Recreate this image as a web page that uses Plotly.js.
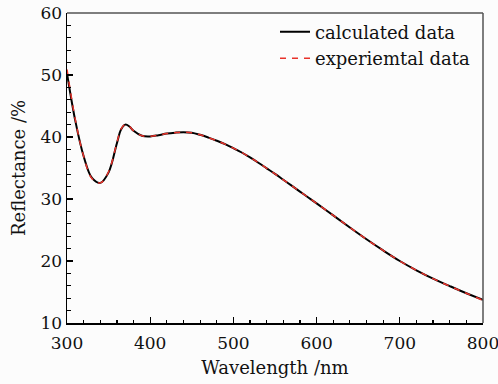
<!DOCTYPE html>
<html>
<head>
<meta charset="utf-8">
<script src="https://cdn.plot.ly/plotly-3.0.1.min.js"></script>
<style>html,body{margin:0;padding:0;background:#fcfcfc;}#chart{width:498px;height:384px;}</style>
</head>
<body>
<div id="chart"></div>
<script>
const wavelength = [300,310,320,330,340,350,360,365,370,375,380,390,400,410,420,430,440,450,460,470,480,490,500,510,520,530,540,550,560,570,580,590,600,620,640,660,680,700,720,740,760,780,800];
const calculated = [50.3,42.6,36.9,33.4,32.6,34.3,39.0,41.2,42.0,41.7,41.0,40.2,40.1,40.3,40.55,40.7,40.78,40.7,40.35,39.9,39.4,38.85,38.2,37.5,36.7,35.85,34.95,34.05,33.1,32.15,31.2,30.25,29.3,27.35,25.4,23.5,21.7,20.0,18.5,17.15,15.95,14.8,13.75];
const experimental = [50.9,42.8,36.9,33.3,32.6,34.4,39.1,41.3,42.0,41.7,41.0,40.2,40.1,40.3,40.55,40.7,40.78,40.7,40.35,39.9,39.4,38.85,38.2,37.5,36.7,35.85,34.95,34.05,33.1,32.15,31.2,30.25,29.3,27.35,25.4,23.5,21.7,20.0,18.5,17.15,15.95,14.8,13.65];
const seriesNames = ["calculated data", "experiemtal data"];
const xTitle = "Wavelength /nm";
const yTitle = "Reflectance /%";

const FAMILY = "'DejaVu Serif', 'Liberation Serif', serif";
const TXT = "#111111";

const traces = [
  {x: wavelength, y: calculated, name: seriesNames[0], type: "scatter", mode: "lines",
   line: {color: "#000000", width: 2, shape: "spline", smoothing: 1}},
  {x: wavelength, y: experimental, name: seriesNames[1], type: "scatter", mode: "lines",
   line: {color: "#e8322a", width: 1.5, dash: "6px,6px", shape: "spline", smoothing: 1}}
];

const layout = {
  width: 498, height: 384,
  margin: {l: 67, r: 15, t: 13, b: 61},
  paper_bgcolor: "#fcfcfc", plot_bgcolor: "#fcfcfc",
  font: {family: FAMILY, size: 18, color: TXT},
  showlegend: true,
  legend: {x: 0.5, y: 0.998, xanchor: "left", yanchor: "top", bgcolor: "rgba(0,0,0,0)",
           font: {family: FAMILY, size: 18, color: TXT}, tracegroupgap: 0, itemwidth: 30},
  xaxis: {range: [300, 800], dtick: 100, tick0: 300, ticks: "inside", ticklen: 6, tickwidth: 1.2, tickcolor: "#000",
          showline: true, linecolor: "#000", linewidth: 1.5, mirror: false, showgrid: false, zeroline: false,
          ticklabeloverflow: "allow", automargin: false, ticklabelstandoff: 4,
          minor: {dtick: 20, tick0: 300, ticks: "inside", ticklen: 3.5, tickcolor: "#000", tickwidth: 1.2, showgrid: false},
          tickfont: {family: FAMILY, size: 17, color: TXT},
          title: {text: xTitle, font: {family: FAMILY, size: 18, color: TXT}, standoff: 9}},
  yaxis: {range: [10, 60], dtick: 10, tick0: 10, ticks: "inside", ticklen: 6, tickwidth: 1.2, tickcolor: "#000",
          showline: true, linecolor: "#000", linewidth: 1.5, mirror: false, showgrid: false, zeroline: false,
          automargin: false,
          minor: {dtick: 2, tick0: 10, ticks: "inside", ticklen: 3.5, tickcolor: "#000", tickwidth: 1.2, showgrid: false},
          tickfont: {family: FAMILY, size: 17, color: TXT},
          title: {text: yTitle, font: {family: FAMILY, size: 18, color: TXT}, standoff: 10}},
  shapes: [
    {type: "line", xref: "paper", yref: "paper", x0: 0, x1: 1, y0: 1, y1: 1, line: {color: "#555", width: 1.5}},
    {type: "line", xref: "paper", yref: "paper", x0: 1, x1: 1, y0: 0, y1: 1, line: {color: "#555", width: 1.5}}
  ]
};

Plotly.newPlot("chart", traces, layout, {displayModeBar: false, staticPlot: true});
</script>
</body>
</html>
